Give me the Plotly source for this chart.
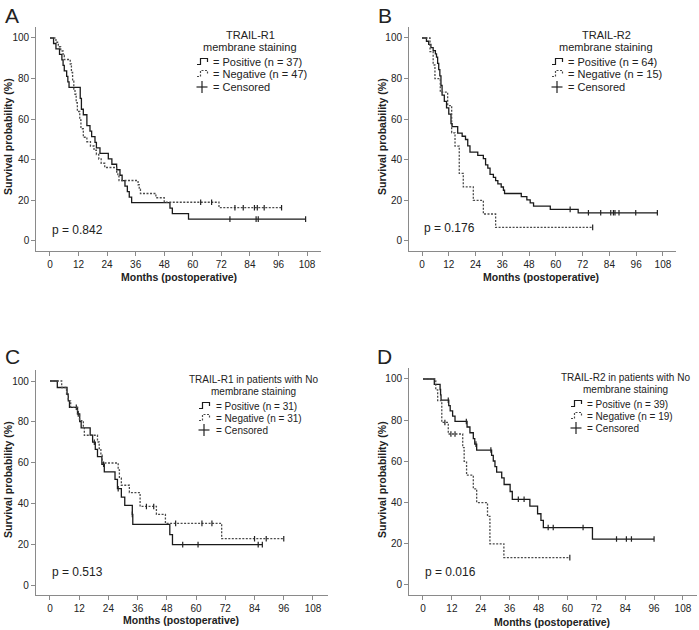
import plotly.graph_objects as go

W, H = 699, 630
FONT = "Arial, Liberation Sans, sans-serif"

# -----------------------------------------------------------------------------
#                               Data
# -----------------------------------------------------------------------------

# A: TRAIL-R1 membrane staining
a_pos_t = [0, 1.5, 2.5, 4, 5, 5.5, 6, 7, 7.5, 8, 12.7, 13.2, 14, 15.5, 16.8, 17.5, 18.9, 19.5,
           21, 24.5, 26, 28, 29.4, 30.3, 31.5, 32.5, 33.3, 34.3, 50.4, 51.4, 58.2]
a_pos_s = [100, 97.3, 94.6, 91.9, 89.2, 86.5, 83.8, 81.1, 78.4, 75.7, 70.3, 64.9, 62.2, 56.8, 54.1, 51.4,
           48.6, 45.9, 43.2, 40.5, 37.8, 35.1, 32.4, 29.7, 27.0, 24.3, 21.6, 18.9, 16.2, 13.5, 10.8]
a_pos_cens = [75.6, 86.6, 87.5, 107.4]
a_neg_t = [0, 2.5, 3.5, 4.5, 5.5, 6, 8.5, 9, 9.5, 10, 10.5, 11, 11.5, 12.5, 13, 14, 15.5, 17, 18.5,
           19.5, 20.5, 21.5, 23, 28, 28.5, 29, 37, 37.5, 38, 44.5, 48, 71]
a_neg_s = [100, 97.9, 95.7, 93.6, 91.5, 89.4, 87.2, 83.0, 78.7, 74.5, 72.3, 68.1, 63.8, 59.6, 55.3, 51.1,
           48.9, 46.8, 44.7, 42.6, 40.4, 38.3, 36.2, 34.0, 31.9, 29.8, 27.7, 25.5, 23.4, 21.3, 19.1, 16.4]
a_neg_cens = [63.3, 67.9, 77.7, 81.2, 85.9, 87.1, 90.0, 97.3]

# B: TRAIL-R2 membrane staining
b_pos_t = [0, 2, 3, 4, 5, 6, 6.5, 7, 7.5, 8, 8.5, 9, 10, 11, 12, 13, 13.5, 16, 18, 19.5, 20.5, 21.5,
           25, 27.5, 28.5, 29.5, 30.5, 32, 33, 34, 35.5, 36.5, 37, 44.5, 47, 48.5, 50, 57.5, 70]
b_pos_s = [100, 98.4, 96.9, 95.3, 93.8, 92.2, 90.6, 87.5, 84.4, 81.3, 76.6, 71.9, 68.8, 65.6, 62.5, 57.8,
           56.3, 53.1, 51.6, 50.0, 46.9, 43.8, 42.2, 40.6, 37.5, 35.9, 32.8, 31.3, 29.7, 28.1, 26.6,
           25.0, 23.4, 21.9, 20.3, 18.8, 17.2, 15.6, 13.9]
b_pos_cens = [66.4, 74.6, 80.1, 84.6, 85.8, 86.5, 88.3, 95.8, 105.5]
b_neg_t = [0, 3.6, 5.0, 5.8, 8.2, 11.5, 13.3, 14.8, 16.7, 18.5, 23, 27.5, 33]
b_neg_s = [100, 93.3, 86.7, 80.0, 73.3, 66.7, 53.3, 46.7, 33.3, 26.7, 20.0, 13.3, 6.7]
b_neg_cens = [76.5]

# C: TRAIL-R1 in patients with No membrane staining
c_pos_t = [0, 3, 7, 7.5, 8, 11.3, 12.2, 12.8, 16.5, 17.5, 18.6, 19.5, 21.3, 22.3, 26.7, 27.7,
           29.3, 30.7, 33.8, 34, 49.2, 50.3]
c_pos_s = [100, 96.8, 93.5, 90.3, 87.1, 83.9, 80.1, 77.0, 73.5, 70.0, 66.5, 62.9, 59.2, 55.5, 51.8,
           47.2, 43.1, 39.0, 34.6, 29.7, 24.7, 19.8]
c_pos_cens = [10.8, 18.2, 22.0, 28.0, 33.8, 54.5, 60.8, 85.5, 87.2]
c_neg_t = [0, 4.8, 6.8, 7.5, 8.5, 11.3, 12.1, 13.7, 14.1, 19.5, 20.2, 20.9, 21.4, 28.0, 28.5, 29.3,
           32.6, 37.0, 43.7, 47.4, 70.5]
c_neg_s = [100, 96.8, 93.5, 90.3, 87.1, 83.9, 80.6, 77.4, 73.4, 70.1, 66.9, 63.6, 59.8, 56.4, 52.4,
           48.9, 45.3, 38.5, 34.6, 30.2, 22.7]
c_neg_cens = [11.6, 39.6, 42.6, 51.6, 62.4, 66.5, 84.0, 88.8, 96.0]

# D: TRAIL-R2 in patients with No membrane staining
d_pos_t = [0, 4.7, 7.1, 7.3, 7.5, 10.7, 11.3, 12.3, 13.3, 18.3, 19.5, 20.9, 21.5, 22.3, 28.5, 29.2,
           29.9, 30.6, 32.7, 33.7, 36.2, 37.1, 44.4, 47.6, 49.0, 50.0, 70.4]
d_pos_s = [100, 97.4, 94.9, 92.3, 89.7, 87.1, 84.5, 82.0, 79.4, 76.7, 73.9, 71.1, 68.4, 65.5, 62.9,
           60.2, 57.5, 54.8, 52.0, 48.8, 45.4, 41.6, 38.3, 34.6, 31.4, 27.9, 22.3]
d_pos_cens = [10.5, 18.0, 22.0, 28.2, 39.6, 42.0, 52.0, 54.1, 66.5, 80.4, 84.5, 86.6, 96.0]
d_neg_t = [0, 5.3, 6.1, 7.8, 10.5, 16.5, 17.1, 18.1, 20.9, 22.3, 26.8, 27.8, 33.6]
d_neg_s = [100, 94.7, 89.5, 78.9, 73.3, 66.7, 60.0, 53.3, 46.7, 40.0, 33.3, 20.0, 13.3]
d_neg_cens = [9.1, 11.6, 13.3, 61.0]

x_ticks = [0, 12, 24, 36, 48, 60, 72, 84, 96, 108]
y_ticks = [0, 20, 40, 60, 80, 100]

panels = [
    dict(letter="A", title=["TRAIL-R1", "membrane staining"], n=(37, 47), p="p = 0.842",
         pos=(a_pos_t, a_pos_s, a_pos_cens), neg=(a_neg_t, a_neg_s, a_neg_cens)),
    dict(letter="B", title=["TRAIL-R2", "membrane staining"], n=(64, 15), p="p = 0.176",
         pos=(b_pos_t, b_pos_s, b_pos_cens), neg=(b_neg_t, b_neg_s, b_neg_cens)),
    dict(letter="C", title=["TRAIL-R1 in patients with No", "membrane staining"], n=(31, 31), p="p = 0.513",
         pos=(c_pos_t, c_pos_s, c_pos_cens), neg=(c_neg_t, c_neg_s, c_neg_cens)),
    dict(letter="D", title=["TRAIL-R2 in patients with No", "membrane staining"], n=(39, 19), p="p = 0.016",
         pos=(d_pos_t, d_pos_s, d_pos_cens), neg=(d_neg_t, d_neg_s, d_neg_cens)),
]

# -----------------------------------------------------------------------------
#                               Layout helpers (pixel based)
# -----------------------------------------------------------------------------

X_RANGE = [-5.8, 114]
Y_RANGE = [-4.9, 105.4]

# pixel position of month 0 / 1 month, 0 % / 1 %
geo = [
    dict(x0=50, sx=2.38, y0=241, sy=2.03, letter=(12, 15), ytitle=(8, 137), xtitle=(179, 277),
         p=(50, 230), leg_c=250, leg_y=(35, 47, 62, 74, 87), glyph_x=197, text_x=211, fs=11),
    dict(x0=422, sx=2.231, y0=241, sy=2.03, letter=(385, 15), ytitle=(382, 137), xtitle=(541, 277),
         p=(422, 228), leg_c=606, leg_y=(35, 47, 62, 74, 87), glyph_x=552, text_x=566, fs=11),
    dict(x0=50, sx=2.435, y0=585, sy=2.04, letter=(12, 356), ytitle=(8, 480), xtitle=(181, 620),
         p=(50, 572), leg_c=254, leg_y=(379, 391, 406, 418, 430), glyph_x=199, text_x=214, fs=10),
    dict(x0=423, sx=2.407, y0=585, sy=2.06, letter=(385, 356), ytitle=(382, 480), xtitle=(552, 622),
         p=(423, 572), leg_c=625, leg_y=(377, 389, 404, 416, 428), glyph_x=571, text_x=585, fs=10),
]


def px(x):
    return x / W


def py(y):
    return 1 - y / H


def step_level(t, s, c):
    lvl = s[0]
    for ti, si in zip(t, s):
        if ti <= c:
            lvl = si
    return lvl


fig = go.Figure()
annotations = []
shapes = []


def add_text(x, y, text, size, bold=False, xanchor="center", angle=0):
    if bold:
        text = "<b>" + text + "</b>"
    annotations.append(dict(x=px(x), y=py(y), xref="paper", yref="paper", text=text,
                            showarrow=False, xanchor=xanchor, yanchor="middle", textangle=angle,
                            font=dict(family=FONT, size=size, color="#222")))


def glyph_step(lx, cy, dash, color):
    path = "M {},{} H {} V {} H {} V {}".format(
        px(lx), py(cy + 2.5), px(lx + 3.5), py(cy - 3.5), px(lx + 10.5), py(cy))
    shapes.append(dict(type="path", path=path, xref="paper", yref="paper",
                       line=dict(color=color, width=1.2, dash=dash)))


DOT = "2px,1.5px"

for i, (pn, g) in enumerate(zip(panels, geo)):
    k = "" if i == 0 else str(i + 1)
    xa, ya = "x" + k, "y" + k
    for (t, s, cens), color, dash in [(pn["pos"], "#1a1a1a", "solid"), (pn["neg"], "#4a4a4a", DOT)]:
        end = cens[-1] if cens and cens[-1] > t[-1] else t[-1]
        fig.add_trace(go.Scatter(
            x=t + [end], y=s + [s[-1]], mode="lines", line_shape="hv",
            line=dict(color=color, width=1.3, dash=dash), xaxis=xa, yaxis=ya,
            showlegend=False, hoverinfo="skip"))
        fig.add_trace(go.Scatter(
            x=cens, y=[step_level(t, s, c) for c in cens], mode="markers",
            marker=dict(symbol="line-ns", size=4, line=dict(color="#222", width=1.2)),
            xaxis=xa, yaxis=ya, showlegend=False, hoverinfo="skip"))

    xdom = [max(0, px(g["x0"] + X_RANGE[0] * g["sx"])), min(1, px(g["x0"] + X_RANGE[1] * g["sx"]))]
    ydom = [py(g["y0"] - Y_RANGE[0] * g["sy"]), py(g["y0"] - Y_RANGE[1] * g["sy"])]
    axis_common = dict(showline=True, linecolor="#8a8a8a", linewidth=1, ticks="outside",
                       ticklen=4, tickcolor="#8a8a8a", showgrid=False, zeroline=False,
                       tickfont=dict(family=FONT, size=10, color="#222"))
    fig.layout["xaxis" + k] = dict(domain=xdom, range=X_RANGE, tickvals=x_ticks,
                                   anchor=ya, **axis_common)
    fig.layout["yaxis" + k] = dict(domain=ydom, range=Y_RANGE, tickvals=y_ticks,
                                   anchor=xa, **axis_common)

    # texts
    add_text(*g["letter"], pn["letter"], 21)
    add_text(*g["ytitle"], "Survival probability (%)", 10.5, bold=True, angle=-90)
    add_text(*g["xtitle"], "Months (postoperative)", 10.5, bold=True)
    add_text(g["p"][0], g["p"][1], pn["p"], 12, xanchor="left")

    ly = g["leg_y"]
    add_text(g["leg_c"], ly[0], pn["title"][0], g["fs"])
    add_text(g["leg_c"], ly[1], pn["title"][1], g["fs"])
    add_text(g["text_x"], ly[2], "= Positive (n = {})".format(pn["n"][0]), g["fs"], xanchor="left")
    add_text(g["text_x"], ly[3], "= Negative (n = {})".format(pn["n"][1]), g["fs"], xanchor="left")
    add_text(g["text_x"], ly[4], "= Censored", g["fs"], xanchor="left")
    glyph_step(g["glyph_x"], ly[2], "solid", "#1a1a1a")
    glyph_step(g["glyph_x"], ly[3], DOT, "#4a4a4a")
    cx, cy = g["glyph_x"] + 5, ly[4]
    shapes.append(dict(type="line", xref="paper", yref="paper", x0=px(cx - 5.5), x1=px(cx + 5.5),
                       y0=py(cy), y1=py(cy), line=dict(color="#222", width=1.2)))
    shapes.append(dict(type="line", xref="paper", yref="paper", x0=px(cx), x1=px(cx),
                       y0=py(cy - 6), y1=py(cy + 6), line=dict(color="#222", width=1.2)))

fig.update_layout(
    width=W, height=H,
    margin=dict(l=0, r=0, t=0, b=0),
    paper_bgcolor="white", plot_bgcolor="white",
    annotations=annotations, shapes=shapes,
    font=dict(family=FONT, color="#222"),
)

# drop the default 8px page margin so the figure sits at the window's corner
fig.write_html("out.html", config={"displayModeBar": False},
               post_script="document.body.style.margin = '0';")
